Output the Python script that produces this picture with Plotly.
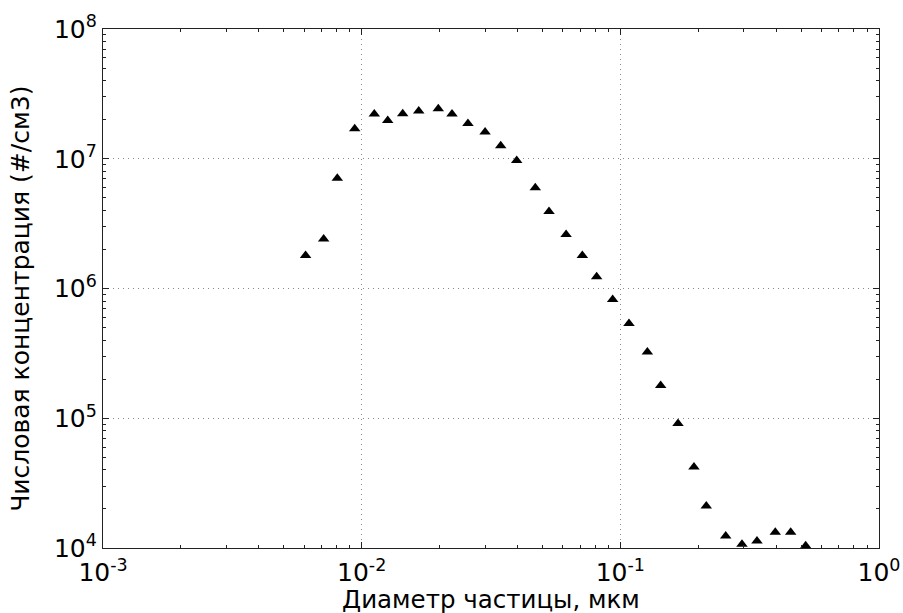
import plotly.graph_objects as go

diameter_um = [0.00607, 0.00713, 0.00805, 0.00940, 0.01119, 0.01261, 0.01441, 0.01662,
               0.01978, 0.02235, 0.02576, 0.0300, 0.03448, 0.03975, 0.04691, 0.0530,
               0.0617, 0.0713, 0.0810, 0.0934, 0.1080, 0.1272, 0.1432, 0.1671,
               0.1926, 0.2149, 0.2555, 0.2953, 0.3375, 0.3972, 0.4556, 0.5206]
concentration = [1.80e6, 2.41e6, 7.06e6, 1.70e7, 2.21e7, 1.97e7, 2.22e7, 2.33e7,
                 2.43e7, 2.21e7, 1.87e7, 1.61e7, 1.26e7, 9.71e6, 5.98e6, 3.93e6,
                 2.61e6, 1.80e6, 1.23e6, 8.24e5, 5.38e5, 3.24e5, 1.79e5, 9.11e4,
                 4.21e4, 2.11e4, 1.24e4, 1.07e4, 1.13e4, 1.32e4, 1.32e4, 1.04e4]

x_tick_exp = [-3, -2, -1, 0]
y_tick_exp = [4, 5, 6, 7, 8]
x_title = "Диаметр частицы, мкм"
y_title = "Числовая концентрация (#/см3)"

def minor_vals(e0, e1):
    return [k * 10.0 ** e for e in range(e0, e1) for k in range(2, 10)]

fig = go.Figure()
fig.add_trace(go.Scatter(
    x=diameter_um, y=concentration, mode="markers",
    marker=dict(symbol="triangle-up", size=10, color="black", line=dict(width=0)),
    showlegend=False,
))

font_ticks = dict(family="DejaVu Sans", size=25, color="black")
common = dict(
    type="log", showline=True, linecolor="#222222", linewidth=1.3, mirror="allticks",
    ticks="inside", ticklen=6, tickwidth=1, tickcolor="#222222",
    showgrid=True, gridcolor="#888888", griddash="1px,4px", gridwidth=1,
    zeroline=False, tickfont=font_ticks, automargin=False,
)

fig.update_xaxes(
    **common, range=[-3, 0],
    tickvals=[10.0 ** e for e in x_tick_exp],
    ticktext=[f"10<sup>{e}</sup>" for e in x_tick_exp],
    ticklabelstandoff=2,
    minor=dict(tickvals=minor_vals(-3, 0), ticks="inside", ticklen=3,
               tickcolor="#222222", showgrid=False),
)
fig.update_yaxes(
    **common, range=[4, 8],
    tickvals=[10.0 ** e for e in y_tick_exp],
    ticktext=[f"10<sup>{e}</sup>" for e in y_tick_exp],
    minor=dict(tickvals=minor_vals(4, 8), ticks="inside", ticklen=3,
               tickcolor="#222222", showgrid=False),
)

fig.add_annotation(
    text=x_title, xref="paper", yref="paper", x=0.5, y=-0.099,
    xanchor="center", yanchor="middle", showarrow=False,
    font=dict(family="DejaVu Sans", size=24.5, color="black"),
)
fig.add_annotation(
    text=y_title, xref="paper", yref="paper", x=-0.1057, y=0.48,
    xanchor="center", yanchor="middle", showarrow=False, textangle=-90,
    font=dict(family="DejaVu Sans", size=25, color="black"),
)

fig.update_layout(
    width=903, height=613,
    margin=dict(l=103, r=24, t=29, b=65),
    paper_bgcolor="white", plot_bgcolor="white",
)
fig.write_html("out.html")
